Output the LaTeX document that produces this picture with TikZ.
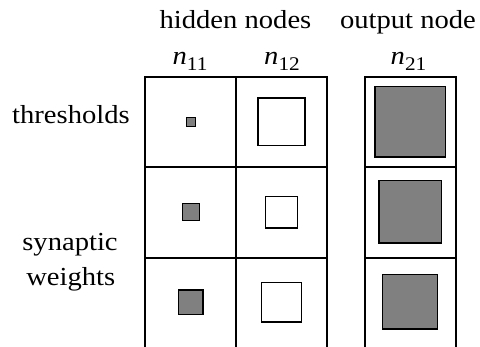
\documentclass[tikz,border=0pt]{standalone}
\usepackage{fontspec}
\setmainfont[FakeStretch=1.1]{Liberation Serif}
\begin{document}
\begin{tikzpicture}[x=0.75pt,y=-0.75pt,
  grid/.style={line width=1.3pt},
  wbox/.style={line width=1.15pt, fill=white},
  gbox/.style={line width=1.15pt, fill=gray50},
  lbl/.style={anchor=base, inner sep=0pt, font=\fontsize{19.5pt}{23pt}\selectfont},
  nlbl/.style={anchor=base, inner sep=0pt, font=\fontsize{19.5pt}{23pt}\selectfont}]
\definecolor{gray50}{RGB}{128,128,128}
\useasboundingbox (0,0) rectangle (480,347);

% grid of the hidden nodes and of the output node (open at the bottom)
\draw[grid] (145.3,348) |- (326.7,76.7) -- (326.7,348);
\draw[grid] (236,76.7) -- (236,348);
\draw[grid] (145.3,167) -- (326.7,167);
\draw[grid] (145.3,257.7) -- (326.7,257.7);
\draw[grid] (365,348) |- (455.7,76.7) -- (455.7,348);
\draw[grid] (365,167) -- (455.7,167);
\draw[grid] (365,257.7) -- (455.7,257.7);

% Hinton squares: centre x, centre y, side, style
\foreach \cx/\cy/\s/\st/\nm in {
  190.8/121.8/9/gbox/a11, 191/212/17/gbox/b11, 190.7/302.2/24.5/gbox/c11,
  281.5/121.8/47.2/wbox/a12, 281.5/212.2/31.7/wbox/b12, 281.5/302.2/39.7/wbox/c12,
  410.3/121.8/70.2/gbox/a21, 410.2/211.8/62.3/gbox/b21, 410/301.7/54.7/gbox/c21}
  \draw[\st] (\cx-\s/2,\cy-\s/2) rectangle (\cx+\s/2,\cy+\s/2);

% column headings
\node[lbl] (hid) at (235.5,28) {hidden nodes};
\node[lbl] (out) at (408,28) {output node};
\node[nlbl] (n11) at (190,64) {\textit{n}\raisebox{-5pt}{\fontsize{14.5pt}{16pt}\selectfont 11}};
\node[nlbl] (n12) at (282,64) {\textit{n}\raisebox{-5pt}{\fontsize{14.5pt}{16pt}\selectfont 12}};
\node[nlbl] (n21) at (408.5,64) {\textit{n}\raisebox{-5pt}{\fontsize{14.5pt}{16pt}\selectfont 21}};

% row headings
\node[lbl] (thr) at (71,123.3) {thresholds};
\node[lbl] (syn) at (70,250) {synaptic};
\node[lbl] (wei) at (70.8,285) {weights};
\end{tikzpicture}
\end{document}
